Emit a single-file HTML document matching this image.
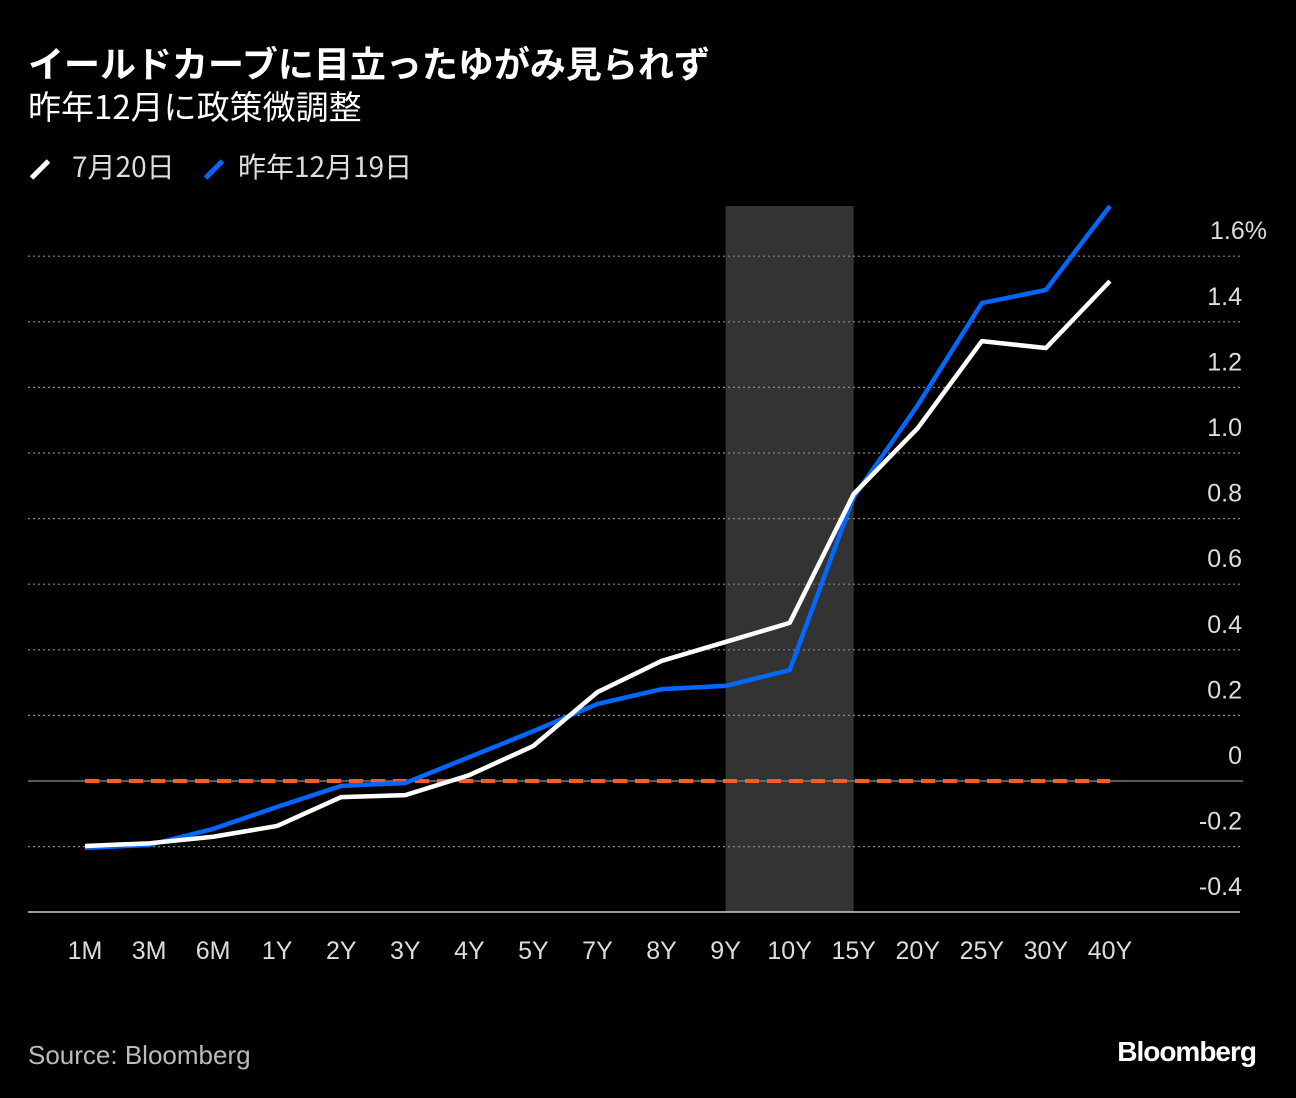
<!DOCTYPE html>
<html><head><meta charset="utf-8">
<style>
body{margin:0;background:#000;width:1296px;height:1098px;overflow:hidden;font-family:"Liberation Sans","Noto Sans CJK JP",sans-serif;color:#fff}
.t{position:absolute;white-space:nowrap}
</style></head><body>
<div class="t" style="left:28px;top:38px;font-size:36px;font-weight:bold;font-family:'Noto Sans CJK JP',sans-serif;line-height:48px">イールドカーブに目立ったゆがみ見られず</div>
<div class="t" style="left:28px;top:83px;font-size:33px;font-family:'Noto Sans CJK JP',sans-serif;line-height:44px">昨年12月に政策微調整</div>
<div class="t" style="left:28px;top:148px;font-size:28px;color:#ddd;font-family:'Noto Sans CJK JP',sans-serif;line-height:36px"><span style="display:inline-block;width:24px;height:5px;background:#fff;transform:rotate(-45deg);vertical-align:middle;margin-right:20px"></span>7月20日</div>
<div class="t" style="left:202px;top:148px;font-size:28px;color:#ddd;font-family:'Noto Sans CJK JP',sans-serif;line-height:36px"><span style="display:inline-block;width:24px;height:5px;background:#0068ff;transform:rotate(-45deg);vertical-align:middle;margin-right:12px"></span>昨年12月19日</div>
<svg id="chart" width="1296" height="1098" style="position:absolute;left:0;top:0"></svg>
<div class="t" style="left:28px;top:1040px;font-size:26px;color:#bbb">Source: Bloomberg</div>
<div class="t" style="right:40px;top:1036px;font-size:28px;font-weight:bold;letter-spacing:-1px">Bloomberg</div>
<script>
const categories=["1M","3M","6M","1Y","2Y","3Y","4Y","5Y","7Y","8Y","9Y","10Y","15Y","20Y","25Y","30Y","40Y"];
const jul20=[-0.198,-0.19,-0.17,-0.137,-0.049,-0.043,0.018,0.107,0.271,0.366,0.424,0.482,0.875,1.076,1.341,1.32,1.524];
const dec19=[-0.204,-0.195,-0.146,-0.079,-0.015,-0.006,0.073,0.152,0.235,0.28,0.29,0.338,0.866,1.146,1.457,1.497,1.753];
const yTicks=[1.6,1.4,1.2,1.0,0.8,0.6,0.4,0.2,0,-0.2,-0.4];
const yTickLabels=["1.6%","1.4","1.2","1.0","0.8","0.6","0.4","0.2","0","-0.2","-0.4"];
const shadeRange=["9Y","15Y"];
const ns="http://www.w3.org/2000/svg";
const svg=document.getElementById('chart');
const x=i=>85+i*64.06;
const y=v=>781-v*328;
function mk(tag,attrs,parent){const e=document.createElementNS(ns,tag);for(const k in attrs)e.setAttribute(k,attrs[k]);(parent||svg).appendChild(e);return e;}
const s0=categories.indexOf(shadeRange[0]),s1=categories.indexOf(shadeRange[1]);
const shade=mk('rect',{x:x(s0),y:206,width:x(s1)-x(s0),height:912-206,fill:'#333'});


yTicks.forEach((v,i)=>{
  if(v!==-0.4&&v!==0){const g=mk('line',{x1:28,x2:1243,y1:y(v),y2:y(v),stroke:'#888','stroke-dasharray':'2,3','stroke-width':1.2});
  
  }
  const t=mk('text',{x:i===0?1267:1242,y:y(v)-17,'text-anchor':'end','font-size':25,fill:'#ddd'});
  
  
  t.textContent=yTickLabels[i];
});
const zl=mk('line',{x1:28,x2:1243,y1:y(0),y2:y(0),stroke:'#777','stroke-width':1.5});


const ax=mk('line',{x1:28,x2:1240,y1:912,y2:912,stroke:'#ccc','stroke-width':1.5});


categories.forEach((c,i)=>{
  const t=mk('text',{x:x(i),y:959,'text-anchor':'middle','font-size':25,fill:'#ddd'});
  
  
  t.textContent=c;
});
const ref=mk('line',{x1:x(0),x2:x(categories.length-1),y1:y(0),y2:y(0),stroke:'#ff5a2a','stroke-width':4,'stroke-dasharray':'14,8'});


function line(data,color,name){
  const p=mk('polyline',{points:data.map((v,i)=>x(i)+','+y(v)).join(' '),fill:'none',stroke:color,'stroke-width':4.5,'stroke-linejoin':'round'});
  
  
}
line(dec19,'#0068ff','series-dec19');
line(jul20,'#ffffff','series-jul20');
</script>
</body></html>
